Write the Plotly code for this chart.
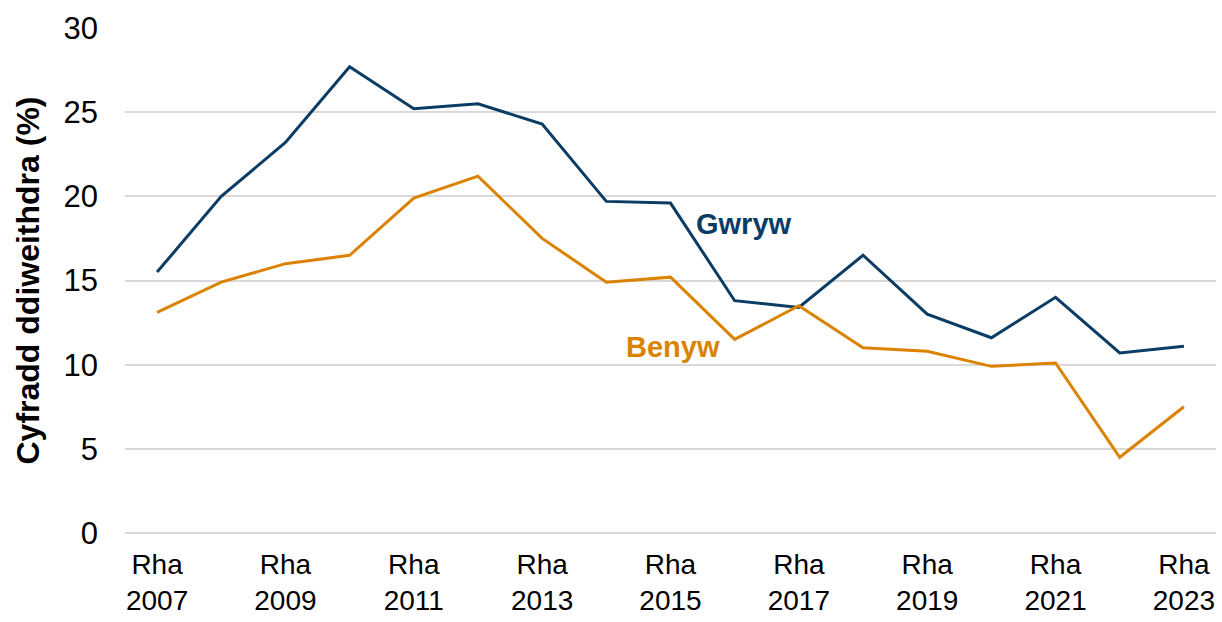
import plotly.graph_objects as go

categories = ["Rha 2007", "Rha 2008", "Rha 2009", "Rha 2010", "Rha 2011", "Rha 2012",
              "Rha 2013", "Rha 2014", "Rha 2015", "Rha 2016", "Rha 2017", "Rha 2018",
              "Rha 2019", "Rha 2020", "Rha 2021", "Rha 2022", "Rha 2023"]
gwryw = [15.5, 20.0, 23.2, 27.7, 25.2, 25.5, 24.3, 19.7, 19.6, 13.8, 13.4, 16.5,
         13.0, 11.6, 14.0, 10.7, 11.1]
benyw = [13.1, 14.9, 16.0, 16.5, 19.9, 21.2, 17.5, 14.9, 15.2, 11.5, 13.5, 11.0,
         10.8, 9.9, 10.1, 4.5, 7.5]
tick_cats = categories[::2]
tick_text = [c.replace(" ", "<br>") for c in tick_cats]

BLUE = "#0B3C64"
ORANGE = "#DB8300"
FONT = "Liberation Sans, Arial, sans-serif"

fig = go.Figure()
fig.add_trace(go.Scatter(x=categories, y=gwryw, mode="lines", name="Gwryw",
                         line=dict(color=BLUE, width=3)))
fig.add_trace(go.Scatter(x=categories, y=benyw, mode="lines", name="Benyw",
                         line=dict(color=ORANGE, width=3)))

fig.add_annotation(x=9.15, y=18.35, text="<b>Gwryw</b>", showarrow=False,
                   xanchor="center", yanchor="middle",
                   font=dict(color=BLUE, size=29, family=FONT))
fig.add_annotation(x=8.04, y=11.05, text="<b>Benyw</b>", showarrow=False,
                   xanchor="center", yanchor="middle",
                   font=dict(color=ORANGE, size=29, family=FONT))

fig.update_layout(
    width=1222, height=622,
    margin=dict(l=125, r=6, t=28, b=89),
    paper_bgcolor="white", plot_bgcolor="white",
    showlegend=False,
    font=dict(family=FONT, color="black", size=31),
)
fig.update_xaxes(
    type="category", range=[-0.5, 16.5], automargin=False,
    tickmode="array", tickvals=tick_cats, ticktext=tick_text,
    showgrid=False, showline=False, ticks="",
    tickfont=dict(size=28), ticklabelstandoff=12,
)
fig.update_yaxes(
    range=[0, 30], dtick=5, automargin=False,
    showgrid=True, gridcolor="#D9D9D9", gridwidth=2,
    zeroline=True, zerolinecolor="#D9D9D9", zerolinewidth=2,
    tickfont=dict(size=31), ticklabelstandoff=26,
    title=dict(text="<b>Cyfradd ddiweithdra (%)</b>", font=dict(size=32), standoff=14),
)

fig.write_html("out.html", config={"displayModeBar": False},
               post_script="document.body.style.margin='0';document.body.style.overflow='hidden';")
